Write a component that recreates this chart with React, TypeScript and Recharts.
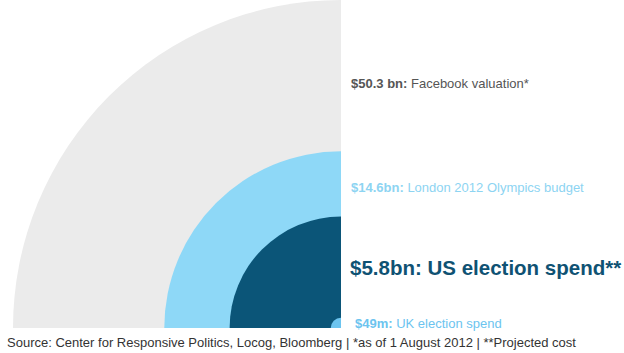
import { Pie, PieChart, Cell } from "recharts";

// Spend in $bn, area of each quarter circle is proportional to value
const items = ["Facebook valuation*", "London 2012 Olympics budget", "US election spend**", "UK election spend"];
const amounts = [50.3, 14.6, 5.8, 0.049];
const amountLabels = ["$50.3 bn:", "$14.6bn:", "$5.8bn:", "$49m:"];
const colors = ["#ebebeb", "#8ed8f7", "#0b5578", "#6cc4ef"];

const W = 624;
const H = 353;
const CX = 341;
const CY = 328;
const MAX_R = 328;

// sqrt scale, so area follows value
const radius = (v: number) => MAX_R * Math.sqrt(v / Math.max(...amounts));

const labelStyle = [
  { top: 76, left: 351, fontSize: 13, color: "#555555", weight: 400 },
  { top: 180, left: 351, fontSize: 13, color: "#8dd4f2", weight: 400 },
  { top: 256, left: 350, fontSize: 20.5, color: "#0f5273", weight: 700 },
  { top: 316, left: 355, fontSize: 13, color: "#6cc4ef", weight: 400 },
];

export default function App() {
  return (
    <div
      style={{
        position: "fixed",
        left: 0,
        top: 0,
        width: W,
        height: H,
        background: "#fff",
        fontFamily: "'Liberation Sans', Arial, sans-serif",
      }}
    >
      <PieChart width={W} height={H} margin={{ top: 0, right: 0, bottom: 0, left: 0 }}>
        {amounts.map((v, i) => (
          <Pie
            key={items[i]}
            data={[{ name: items[i], value: v }]}
            dataKey="value"
            cx={CX}
            cy={CY}
            startAngle={180}
            endAngle={90}
            innerRadius={0}
            outerRadius={radius(v)}
            stroke="none"
            isAnimationActive={false}
          >
            <Cell fill={colors[i]} />
          </Pie>
        ))}
      </PieChart>
      {items.map((name, i) => {
        const s = labelStyle[i];
        return (
          <div
            key={name}
            style={{
              position: "absolute",
              top: s.top,
              left: s.left,
              fontSize: s.fontSize,
              color: s.color,
              fontWeight: s.weight,
              whiteSpace: "nowrap",
              lineHeight: 1.2,
            }}
          >
            <b>{amountLabels[i]}</b> {name}
          </div>
        );
      })}
      <div
        style={{
          position: "absolute",
          top: 335,
          left: 7,
          fontSize: 13,
          color: "#333",
          whiteSpace: "nowrap",
          lineHeight: 1.2,
        }}
      >
        Source: Center for Responsive Politics, Locog, Bloomberg | *as of 1 August 2012 | **Projected cost
      </div>
    </div>
  );
}
